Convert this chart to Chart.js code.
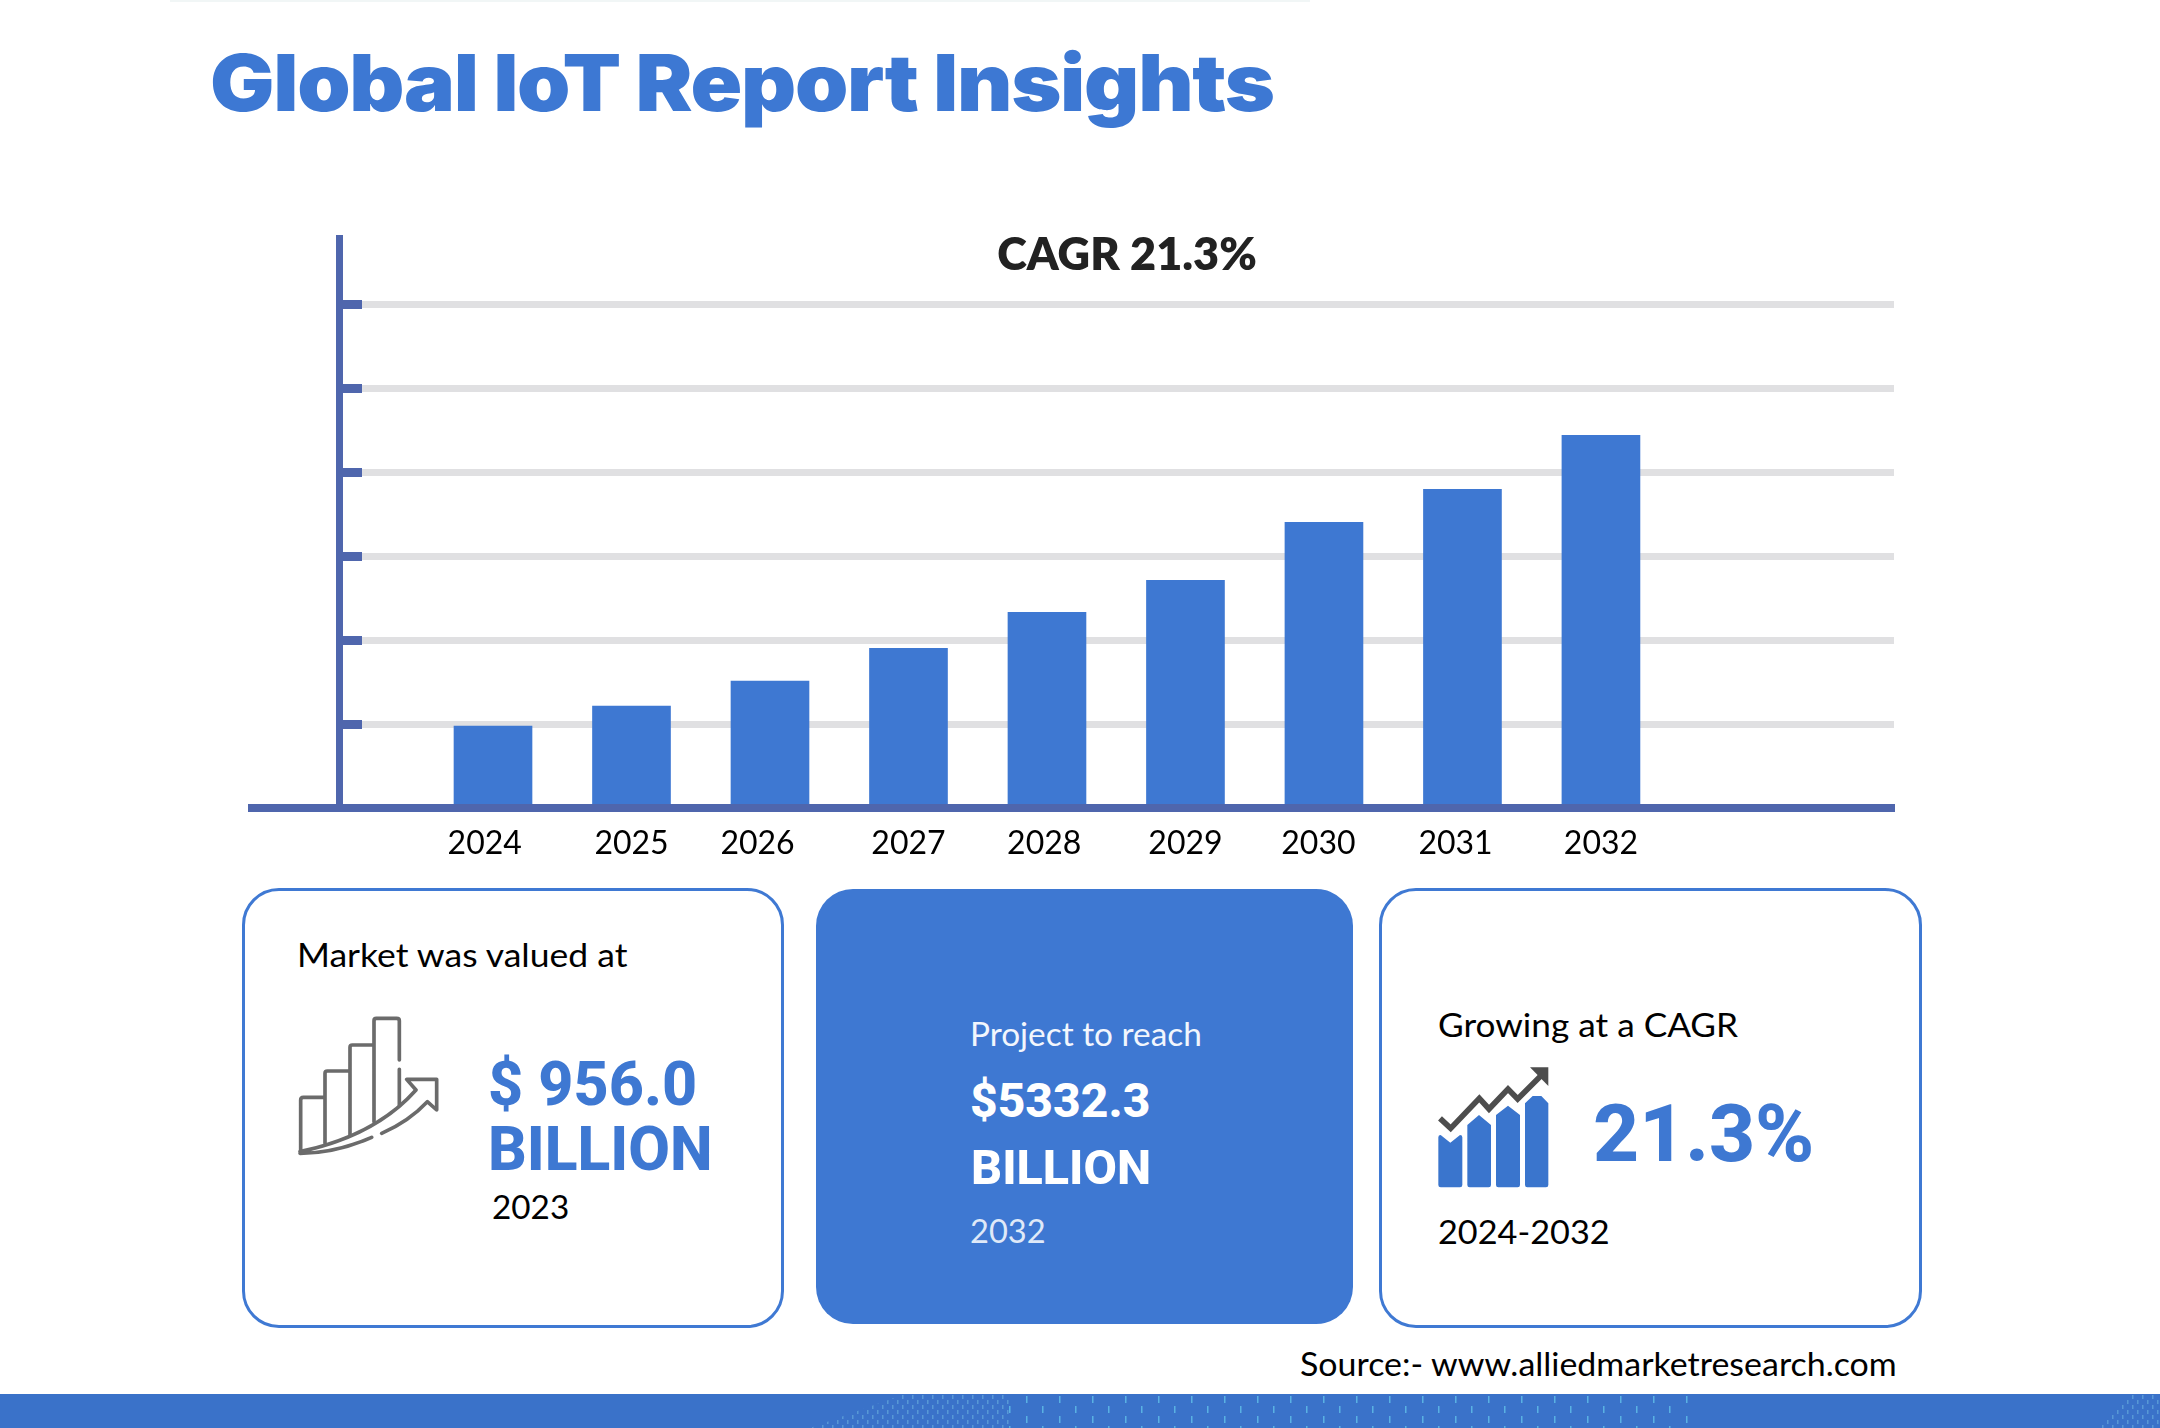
<!DOCTYPE html>
<html><head><meta charset="utf-8">
<script src="https://cdn.jsdelivr.net/npm/chart.js@4/dist/chart.umd.min.js"></script>
<style>
html,body{margin:0;padding:0;background:#fff;}
body{position:relative;width:2160px;height:1428px;overflow:hidden;font-family:Lato,sans-serif;color:#000;}
.t{position:absolute;white-space:nowrap;line-height:1;transform:translateY(-50%) scaleX(var(--sx,1));transform-origin:left center;}
.card{position:absolute;box-sizing:border-box;border-radius:37px;}
.o{border:3px solid #3f79d3;background:#fff;}
.r{font-family:Roboto,sans-serif;font-weight:800;}
canvas{position:absolute;left:240px;top:201px;}
svg{position:absolute;}
</style></head><body>
<div style="position:absolute;left:170px;top:0;width:1140px;height:2px;background:#f1f6f6"></div>
<div class="t" style="--sx:1.082;left:210px;top:82px;font:900 79px Inter,sans-serif;color:#3d78d3;letter-spacing:-1.2px">Global IoT Report Insights</div>

<canvas id="c" width="1700" height="700" style="width:1700px;height:700px"></canvas>

<div class="card o" style="left:242px;top:888px;width:542px;height:440px"></div>
<div class="card" style="left:816px;top:889px;width:537px;height:435px;background:#3e78d2"></div>
<div class="card o" style="left:1379px;top:888px;width:543px;height:440px"></div>

<div class="t" style="--sx:1.11;left:297px;top:955px;font-size:32px">Market was valued at</div>
<svg style="left:290px;top:1010px" width="160" height="150" viewBox="0 0 480 450" fill="none" stroke="#6b6b6b" stroke-width="11" stroke-linecap="round" stroke-linejoin="round">
<path d="M32 420V270Q32 262 40 262H105M105 400V190Q105 183 112 183H180M180 375V112Q180 105 187 105H252M252 335V32Q252 25 259 25H320Q328 25 328 32V150M328 178V285"/>
<path d="M30 425C150 400 280 350 378 240L350 208H440V300L412 275C370 320 320 350 275 370M245 382C170 415 100 430 30 430"/>
</svg>
<div class="t r" style="left:488px;top:1084px;font-size:61px;color:#3e78d2">$ 956.0</div>
<div class="t r" style="left:488px;top:1150px;font-size:60.5px;color:#3e78d2">BILLION</div>
<div class="t" style="--sx:1.04;left:492px;top:1207px;font-size:32px">2023</div>

<div class="t" style="--sx:1.043;left:970px;top:1034px;font-size:32px;color:#f2f6fd">Project to reach</div>
<div class="t r" style="left:970px;top:1100.5px;font-size:48px;color:#fff">$5332.3</div>
<div class="t r" style="left:971px;top:1168px;font-size:48.5px;color:#fff">BILLION</div>
<div class="t" style="--sx:1.02;left:970px;top:1231px;font-size:32px;color:#dfe9f8">2032</div>

<div class="t" style="--sx:1.10;left:1438px;top:1025px;font-size:32px">Growing at a CAGR</div>
<svg style="left:1430px;top:1060px" width="130" height="135" viewBox="0 0 390 405">
<path fill="#3a75cd" d="M25 232Q25 225 32 225L61 248L90 225Q97 225 97 232V375Q97 382 90 382H32Q25 382 25 375ZM112 195L147 165L183 195V375Q183 382 176 382H119Q112 382 112 375ZM198 165L234 137L270 165V375Q270 382 263 382H205Q198 382 198 375ZM285 130L308 108H334L355 130V375Q355 382 348 382H292Q285 382 285 375Z"/>
<path fill="none" stroke="#4d4d4d" stroke-width="17" stroke-linejoin="miter" d="M30 175L62 205L148 115L177 147L234 87L263 117L335 45"/>
<path fill="#4d4d4d" d="M300 22H355V78Z"/>
</svg>
<div class="t r" style="left:1593px;top:1134px;font-size:80px;color:#3e78d2">21.3%</div>
<div class="t" style="--sx:1.07;left:1438px;top:1232px;font-size:32px">2024-2032</div>

<div class="t" style="--sx:1.061;left:1300px;top:1364px;font-size:32px">Source:- www.alliedmarketresearch.com</div>

<svg style="left:0;top:1394px" width="2160" height="34">
<defs>
<pattern id="pa" width="33" height="20" patternUnits="userSpaceOnUse"><rect x="3" y="2" width="1.5" height="7" fill="#59b1e3"/><rect x="19" y="12" width="1.5" height="7" fill="#59b1e3"/></pattern>
<pattern id="pb" width="10" height="10" patternUnits="userSpaceOnUse"><rect x="2" y="1" width="1.5" height="4" fill="#63a9dc"/><rect x="7" y="6" width="1.5" height="4" fill="#63a9dc"/></pattern>
</defs>
<rect width="2160" height="34" fill="#3a72c9"/>
<path d="M1000 0H1690V34H1000Z" fill="url(#pa)"/>
<path d="M905 0H1010V34H810Z" fill="url(#pb)" opacity=".7"/>
<path d="M2130 0H2160V34H2095Z" fill="url(#pb)" opacity=".7"/>
</svg>

<script>
const years = [2024, 2025, 2026, 2027, 2028, 2029, 2030, 2031, 2032];
const values = [1172, 1458, 1815, 2287, 2802, 3259, 4088, 4560, 5332.3];
const yearLabelPositions = [2023.94, 2025, 2025.91, 2027, 2027.98, 2029, 2029.96, 2030.95, 2032];
const gridValues = [1200, 2400, 3600, 4800, 6000, 7200];
const AXIS = '#4f66ad', GRID = '#e0e0e2', BAR = '#3e78d2';

const chartExtras = {
  id: 'chartExtras',
  afterLayout(chart) { chart.titleBlock.left += 10.5; chart.titleBlock.right += 10.5; },
  afterDatasetsDraw(chart) {
    const a = chart.chartArea, ctx = chart.ctx;
    ctx.save(); ctx.fillStyle = AXIS;
    ctx.fillRect(a.left - 91, a.bottom - 4, 91, 8);
    ctx.restore();
  }
};

new Chart(document.getElementById('c'), {
  type: 'bar',
  data: { datasets: [{
    data: years.map((y, i) => ({ x: y, y: values[i] })),
    backgroundColor: BAR, borderWidth: 0,
    barThickness: 78
  }]},
  plugins: [chartExtras],
  options: {
    responsive: false, animation: false, devicePixelRatio: 1,
    layout: { padding: { left: 99, right: 46, top: 0, bottom: 0 } },
    plugins: {
      legend: { display: false }, tooltip: { enabled: false },
      title: { display: true, text: 'CAGR 21.3%', color: '#222222',
        font: { family: 'Lato', size: 45, weight: '800', lineHeight: 1.2 },
        padding: { top: 27, bottom: -44 } }
    },
    scales: {
      x: { type: 'linear', min: 2022.888, max: 2034.116, offset: false,
        afterBuildTicks(s) { s.ticks = yearLabelPositions.map(v => ({ value: v })); },
        afterFit(s) { s.height = 93; },
        ticks: { autoSkip: false, maxRotation: 0, padding: 16, color: '#000',
          font: { family: 'Lato', size: 32 }, callback: v => String(Math.round(v)) },
        grid: { display: false, drawTicks: false },
        border: { display: true, color: AXIS, width: 8, z: 1 } },
      y: { min: 0, max: 8158, position: 'left',
        afterBuildTicks(s) { s.ticks = gridValues.map(v => ({ value: v })); },
        afterFit(s) { s.width = 0; },
        ticks: { display: false },
        grid: { color: GRID, lineWidth: 7, drawTicks: true, tickLength: -23, tickColor: AXIS, tickWidth: 9 },
        border: { display: true, color: AXIS, width: 7, z: 1 } }
    }
  }
});
</script>
</body></html>
